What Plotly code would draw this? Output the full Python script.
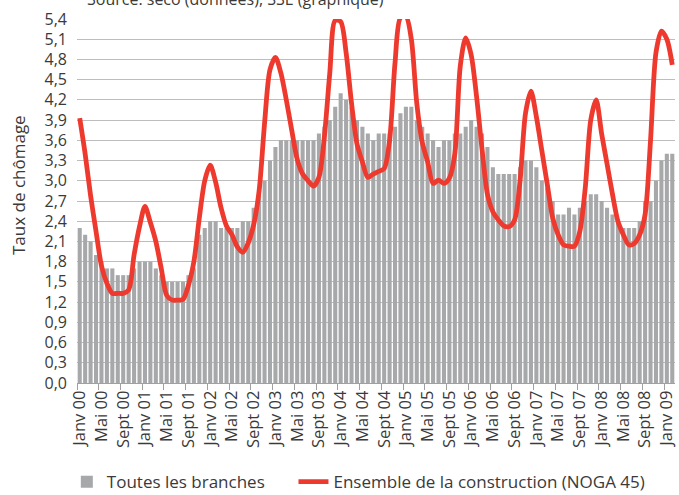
import plotly.graph_objects as go

month_names = ["Janv", "Févr", "Mars", "Avr", "Mai", "Juin",
               "Juil", "Août", "Sept", "Oct", "Nov", "Déc"]
first_year = 2000
n_months = 110  # Janv 00 - Févr 09

# Taux de chômage, toutes les branches (%)
toutes_branches = [
    2.3, 2.2, 2.1, 1.9, 1.8, 1.7, 1.7, 1.6, 1.6, 1.6,
    1.7, 1.8, 1.8, 1.8, 1.7, 1.6, 1.5, 1.5, 1.5, 1.5,
    1.6, 1.7, 2.2, 2.3, 2.4, 2.4, 2.3, 2.3, 2.3, 2.3,
    2.4, 2.4, 2.6, 2.8, 3.0, 3.3, 3.5, 3.6, 3.6, 3.6,
    3.6, 3.6, 3.6, 3.6, 3.7, 3.8, 3.9, 4.1, 4.3, 4.2,
    4.1, 3.9, 3.8, 3.7, 3.6, 3.7, 3.7, 3.7, 3.8, 4.0,
    4.1, 4.1, 3.9, 3.8, 3.7, 3.6, 3.5, 3.6, 3.6, 3.7,
    3.7, 3.8, 3.9, 3.8, 3.7, 3.5, 3.2, 3.1, 3.1, 3.1,
    3.1, 3.2, 3.3, 3.3, 3.2, 3.0, 2.9, 2.7, 2.5, 2.5,
    2.6, 2.5, 2.6, 2.7, 2.8, 2.8, 2.7, 2.6, 2.5, 2.4,
    2.3, 2.3, 2.3, 2.4, 2.7, 2.7, 3.0, 3.3, 3.4, 3.4,
]

# Taux de chômage, ensemble de la construction (NOGA 45) (%)
construction = [
    3.93, 3.4, 2.78, 2.25, 1.74, 1.48, 1.33, 1.33, 1.33, 1.38,
    1.9, 2.32, 2.62, 2.38, 2.1, 1.7, 1.3, 1.23, 1.23, 1.24,
    1.45, 1.8, 2.45, 3.0, 3.23, 2.98, 2.6, 2.33, 2.2, 2.02,
    1.94, 2.08, 2.35, 2.85, 3.85, 4.65, 4.83, 4.6, 4.2, 3.75,
    3.32, 3.1, 3.0, 2.92, 3.05, 3.65, 4.6, 5.38, 5.36, 4.9,
    4.15, 3.55, 3.28, 3.05, 3.1, 3.14, 3.18, 3.6, 4.75, 5.42,
    5.44, 5.1, 4.15, 3.57, 3.28, 2.96, 3.01, 2.96, 3.04, 3.4,
    4.7, 5.12, 4.87, 4.25, 3.47, 2.8, 2.54, 2.42, 2.33, 2.32,
    2.42, 3.0, 4.0, 4.33, 3.95, 3.45, 2.95, 2.45, 2.2, 2.05,
    2.03, 2.03, 2.25, 2.9, 3.9, 4.2, 3.7, 3.25, 2.8, 2.4,
    2.2, 2.05, 2.07, 2.2, 2.5, 3.6, 4.9, 5.22, 5.1, 4.72,
]

labels = [f"{month_names[i % 12]} {(first_year + i // 12) % 100:02d}"
          for i in range(n_months)]
x = list(range(n_months))
label_step = 4

y_max = 5.4
y_step = 0.3
y_ticks = [round(k * y_step, 1) for k in range(int(round(y_max / y_step)) + 1)]

text_color = "#3a3a3a"
font_family = "Open Sans, Noto Sans, sans-serif"

fig = go.Figure()
fig.add_trace(go.Bar(
    x=x, y=toutes_branches,
    name="Toutes les branches",
    marker=dict(color="#a7a8aa", line=dict(width=0)),
    legend="legend",
))
fig.add_trace(go.Scatter(
    x=x, y=construction,
    name="Ensemble de la construction (NOGA 45)",
    mode="lines",
    line=dict(color="#ee3a2e", width=4.8, shape="spline", smoothing=0.8),
    legend="legend2",
))

legend_style = dict(
    orientation="h", xanchor="left", yref="container", y=0.026,
    yanchor="middle", font=dict(size=17, color=text_color),
    bgcolor="rgba(0,0,0,0)",
)

fig.update_layout(
    width=679, height=495,
    margin=dict(l=77, r=2, t=19, b=112),
    paper_bgcolor="white", plot_bgcolor="white",
    font=dict(family=font_family, size=15, color=text_color),
    bargap=0.25,
    showlegend=True,
    legend=dict(x=-0.017, **legend_style),
    legend2=dict(x=0.362, **legend_style),
    annotations=[
        dict(
            text="Source: seco (données), SSE (graphique)",
            xref="paper", yref="paper", x=0.013, y=1.055,
            xanchor="left", yanchor="middle", showarrow=False,
            font=dict(size=16, color=text_color),
        ),
        dict(
            text="Taux de chômage",
            xref="paper", yref="paper", x=-0.098, y=0.545,
            xanchor="center", yanchor="middle", textangle=-90,
            showarrow=False, font=dict(size=17, color=text_color),
        ),
    ],
)

fig.update_xaxes(
    range=[-0.5, n_months - 0.5],
    tickmode="array",
    tickvals=x[::label_step],
    ticktext=labels[::label_step],
    tickangle=-90,
    ticks="",
    ticklabeloverflow="allow",
    showgrid=False,
    showline=True, linecolor="#a0a0a0", linewidth=1,
    minor=dict(tick0=-0.5, dtick=label_step, ticks="outside",
               ticklen=6, tickcolor="#a0a0a0", showgrid=False),
    tickfont=dict(size=16.5, color=text_color),
    zeroline=False,
)

fig.update_yaxes(
    range=[0, y_max],
    tickmode="array",
    tickvals=y_ticks,
    ticktext=[f"{v:.1f}".replace(".", ",") for v in y_ticks],
    showgrid=True, gridcolor="#bdbdbd", gridwidth=1.3,
    zeroline=False,
    showline=False,
    ticks="", ticklabelstandoff=9,
    tickfont=dict(size=16, color=text_color),
)

fig.write_html("out.html", config={"displayModeBar": False},
               post_script="document.body.style.margin = '0';")
